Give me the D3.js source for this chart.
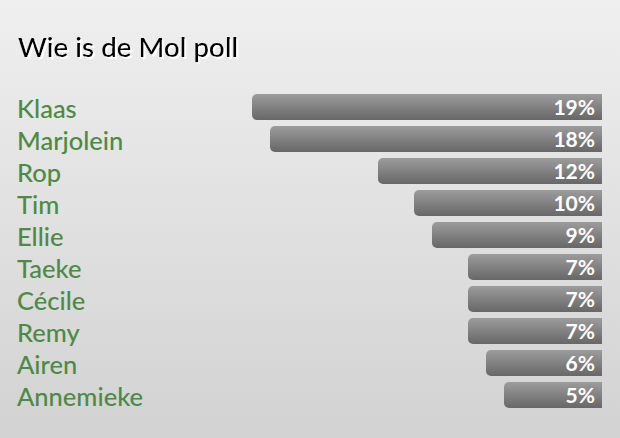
<!DOCTYPE html>
<html><head><meta charset="utf-8">
<script src="https://cdn.jsdelivr.net/npm/d3@7"></script>
<style>
html,body{margin:0;padding:0;}
body{width:620px;height:438px;overflow:hidden;}
</style></head>
<body>
<script>
const title = "Wie is de Mol poll";
const names = ["Klaas","Marjolein","Rop","Tim","Ellie","Taeke","Cécile","Remy","Airen","Annemieke"];
const percents = [19,18,12,10,9,7,7,7,6,5];

const W = 620, H = 438;
const svg = d3.select("body").append("svg").attr("width", W).attr("height", H);
const defs = svg.append("defs");
const bg = defs.append("linearGradient").attr("id","bg").attr("x1",0).attr("y1",0).attr("x2",0).attr("y2",1);
bg.append("stop").attr("offset","0%").attr("stop-color","#efefef");
bg.append("stop").attr("offset","100%").attr("stop-color","#d2d2d2");
const bar = defs.append("linearGradient").attr("id","bar").attr("x1",0).attr("y1",0).attr("x2",0).attr("y2",1);
bar.append("stop").attr("offset","0%").attr("stop-color","#9c9c9c");
bar.append("stop").attr("offset","100%").attr("stop-color","#676767");
const sh = defs.append("filter").attr("id","sh").attr("x","-10%").attr("y","-20%").attr("width","120%").attr("height","150%");
sh.append("feFlood").attr("flood-color","#ffffff");
sh.append("feComposite").attr("in2","SourceAlpha").attr("operator","in");
sh.append("feOffset").attr("dx",1.5).attr("dy",1.5).attr("result","s");
const m = sh.append("feMerge");
m.append("feMergeNode").attr("in","s");
m.append("feMergeNode").attr("in","SourceGraphic");

svg.append("rect").attr("width",W).attr("height",H).attr("fill","url(#bg)");

const font = "Lato, 'Open Sans', sans-serif";
svg.append("text").attr("x",18).attr("y",57).text(title)
  .attr("font-family",font).attr("font-weight",500).attr("font-size",27.8).attr("fill","#000").attr("filter","url(#sh)");

const right = 602;
const x = d3.scaleLinear().domain([0, d3.max(percents)]).range([8, 350]);
const y = d3.scaleBand().domain(names).range([91, 411]).paddingInner(6/32).paddingOuter(3/32);

const g = svg.append("g");
const rows = g.selectAll("g.row").data(names).join("g").attr("class","row");
rows.append("text").attr("x",17).attr("y",d=>y(d)+y.bandwidth()/2+10.5)
  .text(d=>d).attr("font-family",font).attr("font-weight",500).attr("font-size",25.5).attr("fill","#4e8a45");
const r = 5;
rows.append("path").attr("fill","url(#bar)").attr("d",(d,i)=>{
  const w = x(percents[i]); const x0 = right - w, y0 = y(d), h = y.bandwidth();
  return `M${right},${y0}H${x0+r}A${r},${r} 0 0 0 ${x0},${y0+r}V${y0+h-r}A${r},${r} 0 0 0 ${x0+r},${y0+h}H${right}Z`;
});
rows.append("text").attr("x",right-7).attr("y",d=>y(d)+y.bandwidth()/2+7.5)
  .attr("text-anchor","end").text((d,i)=>percents[i]+"%")
  .attr("font-family",font).attr("font-weight","bold").attr("font-size",21).attr("fill","#fff");
</script>
</body></html>
